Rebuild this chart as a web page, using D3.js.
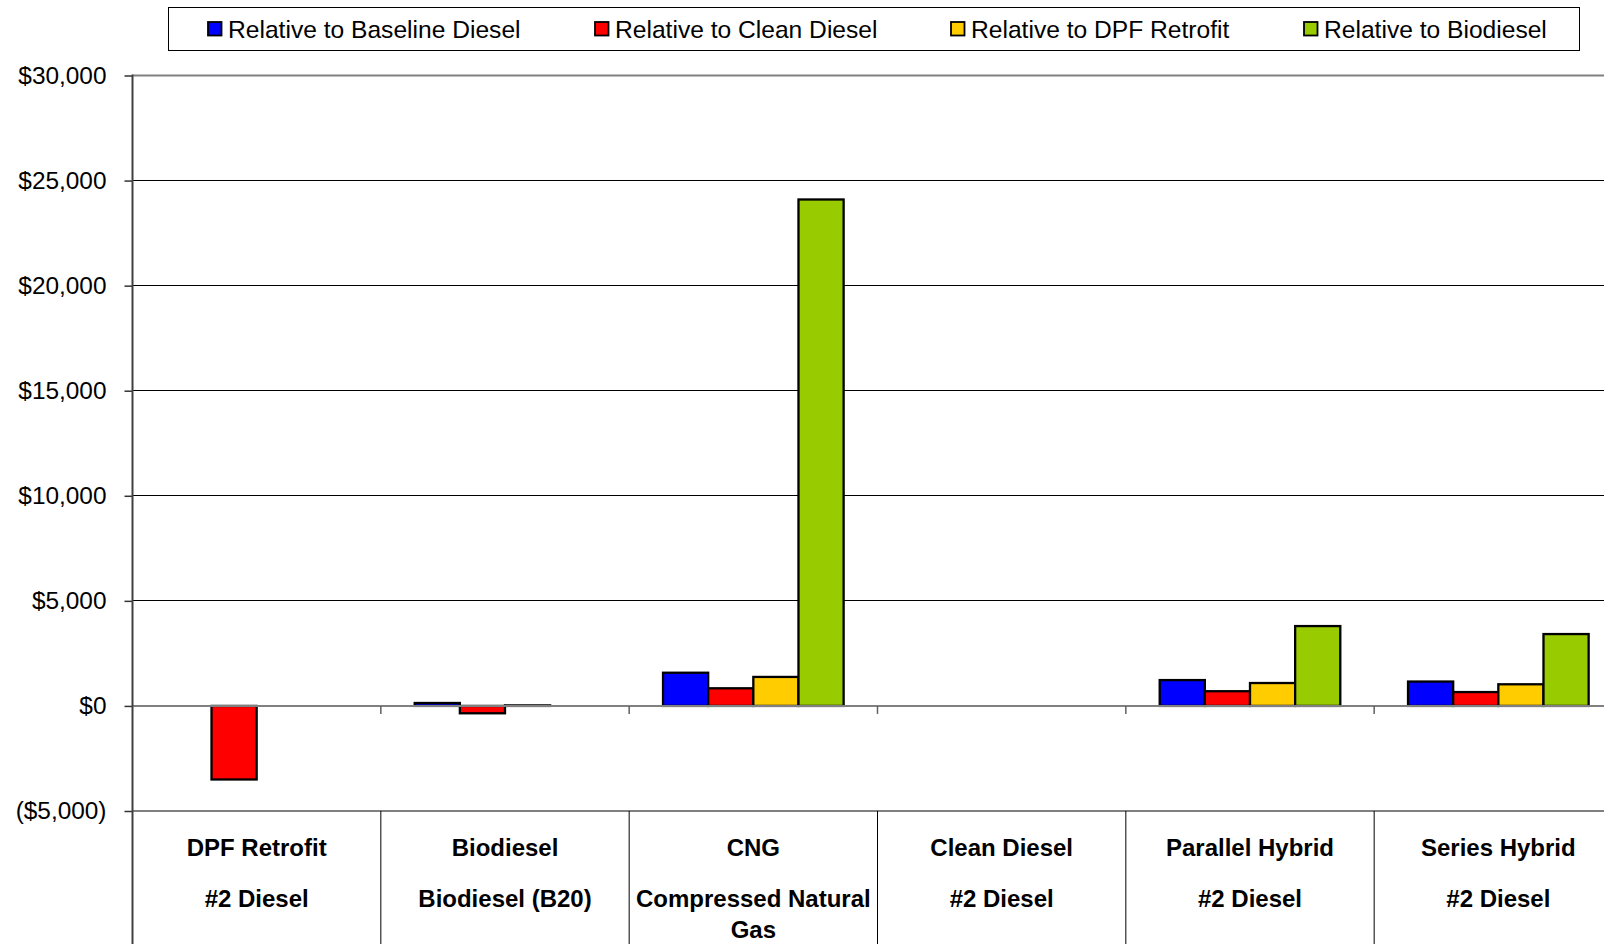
<!DOCTYPE html>
<html>
<head>
<meta charset="utf-8">
<script src="https://cdn.jsdelivr.net/npm/d3@7/dist/d3.min.js"></script>
<style>
  html, body { margin: 0; padding: 0; background: #fff; overflow: hidden; }
  svg { display: block; font-family: "Liberation Sans", Arial, sans-serif; }
</style>
</head>
<body>
<svg id="chart" width="1604" height="944"></svg>
<script>
// Vehicle technologies and their fuels (two-line category labels)
const technologies = ["DPF Retrofit", "Biodiesel", "CNG", "Clean Diesel", "Parallel Hybrid", "Series Hybrid"];
const fuels = ["#2 Diesel", "Biodiesel (B20)", "Compressed Natural Gas", "#2 Diesel", "#2 Diesel", "#2 Diesel"];

// Series names and colours
const seriesNames = ["Relative to Baseline Diesel", "Relative to Clean Diesel", "Relative to DPF Retrofit", "Relative to Biodiesel"];
const seriesColors = ["#0000FF", "#FF0000", "#FFCC00", "#99CC00"];

// Incremental cost per series (null = not applicable)
const relBaseline = [null, 140, 1580, null, 1230, 1160];
const relClean    = [-3500, -350, 840, null, 700, 660];
const relDPF      = [null, 25, 1380, null, 1090, 1030];
const relBiodiesel = [null, null, 24100, null, 3800, 3420];

// Value-axis ticks
const yTicks = [-5000, 0, 5000, 10000, 15000, 20000, 25000, 30000];

const seriesValues = [relBaseline, relClean, relDPF, relBiodiesel];

const svg = d3.select("#chart");
const plotLeft = 132.5, plotRight = 1622.5;
const yTop = 75.5, yBottom = 811;

const x0 = d3.scaleBand().domain(d3.range(technologies.length)).range([plotLeft, plotRight]).paddingInner(0).paddingOuter(0);
// Excel-style gap width of 150%: 4 bars + 1.5 bar-widths of gap per category
const x1 = d3.scaleBand().domain(d3.range(seriesNames.length))
  .range([0, x0.bandwidth()]).paddingInner(0).paddingOuter(0.75);
const y = d3.scaleLinear().domain([-5000, 30000]).range([yBottom, yTop]);

const fmt = v => v < 0 ? "($" + d3.format(",")(-v) + ")" : "$" + d3.format(",")(v);

// Horizontal gridlines
svg.append("g").selectAll("line")
  .data(yTicks.filter(t => t !== 0 && t !== -5000 && t !== 30000))
  .join("line")
  .attr("x1", plotLeft).attr("x2", 1604)
  .attr("y1", d => y(d)).attr("y2", d => y(d))
  .attr("stroke", "#000").attr("stroke-width", 1).attr("shape-rendering", "crispEdges");

// Top border and bottom (category) line
[30000, -5000].forEach(t => {
  svg.append("line")
    .attr("x1", plotLeft).attr("x2", 1604).attr("y1", y(t)).attr("y2", y(t))
    .attr("stroke", "#808080").attr("stroke-width", 2);
});

// Category divider lines under the plot
svg.append("g").selectAll("line")
  .data(d3.range(technologies.length + 1))
  .join("line")
  .attr("x1", d => plotLeft + d * x0.bandwidth()).attr("x2", d => plotLeft + d * x0.bandwidth())
  .attr("y1", yBottom).attr("y2", 944)
  .attr("stroke", "#000").attr("stroke-width", 1);

// Bars
const groups = svg.append("g").selectAll("g")
  .data(technologies.map((t, i) => i))
  .join("g")
  .attr("transform", i => `translate(${x0(i)},0)`);

groups.selectAll("rect")
  .data(i => seriesValues.map((vals, s) => ({ s, v: vals[i] })).filter(d => d.v !== null))
  .join("rect")
  .attr("x", d => x1(d.s))
  .attr("width", x1.bandwidth())
  .attr("y", d => Math.min(y(d.v), y(0)))
  .attr("height", d => Math.abs(y(d.v) - y(0)))
  .attr("fill", d => seriesColors[d.s])
  .attr("stroke", "#000").attr("stroke-width", 2.3);

// Zero line with tick marks at category boundaries
svg.append("line")
  .attr("x1", plotLeft).attr("x2", 1604).attr("y1", y(0)).attr("y2", y(0))
  .attr("stroke", "#808080").attr("stroke-width", 2);
svg.append("g").selectAll("line")
  .data(d3.range(1, technologies.length + 1))
  .join("line")
  .attr("x1", d => plotLeft + d * x0.bandwidth()).attr("x2", d => plotLeft + d * x0.bandwidth())
  .attr("y1", y(0)).attr("y2", y(0) + 8)
  .attr("stroke", "#606060").attr("stroke-width", 1.5);

// Value axis
const yAxis = d3.axisLeft(y).tickValues(yTicks).tickFormat(fmt).tickSize(8).tickPadding(18);
const ya = svg.append("g").attr("transform", `translate(${plotLeft},0)`).call(yAxis);
ya.select(".domain").remove();
ya.selectAll(".tick line").attr("stroke", "#333").attr("stroke-width", 1.5);
ya.selectAll(".tick text")
  .attr("font-size", 24.4).attr("fill", "#000")
  .attr("font-family", "'Liberation Sans', Arial, sans-serif");
svg.append("line")
  .attr("x1", plotLeft).attr("x2", plotLeft).attr("y1", yTop - 1).attr("y2", 944)
  .attr("stroke", "#404040").attr("stroke-width", 2);

// Category labels (technology / fuel, wrapped to the category width)
const labelW = x0.bandwidth() - 10;
const labels = svg.append("g").attr("font-weight", "bold").attr("font-size", 24)
  .attr("text-anchor", "middle").attr("fill", "#000");
technologies.forEach((tech, i) => {
  const cx = x0(i) + x0.bandwidth() / 2;
  labels.append("text").attr("x", cx).attr("y", 855.5).text(tech);
  // wrap the fuel line word by word
  const words = fuels[i].split(" ");
  let lines = [], cur = [];
  const probe = labels.append("text").attr("x", cx).attr("y", -100);
  words.forEach(w => {
    const test = cur.concat([w]).join(" ");
    probe.text(test);
    if (probe.node().getComputedTextLength() > labelW && cur.length) {
      lines.push(cur.join(" "));
      cur = [w];
    } else cur.push(w);
  });
  lines.push(cur.join(" "));
  probe.remove();
  lines.forEach((ln, k) => {
    labels.append("text").attr("x", cx).attr("y", 906.5 + k * 31.5).text(ln);
  });
});

// Legend
const legend = svg.append("g");
legend.append("rect")
  .attr("x", 168.5).attr("y", 7.5).attr("width", 1411).attr("height", 43)
  .attr("fill", "#fff").attr("stroke", "#000").attr("stroke-width", 1);
const legendX = [208, 595, 951, 1304];
seriesNames.forEach((name, s) => {
  legend.append("rect")
    .attr("x", legendX[s]).attr("y", 22).attr("width", 13.5).attr("height", 13.5)
    .attr("fill", seriesColors[s]).attr("stroke", "#000").attr("stroke-width", 1.8);
  legend.append("text")
    .attr("x", legendX[s] + 20).attr("y", 37.5)
    .attr("font-size", 24.6).attr("fill", "#000").text(name);
});
</script>
</body>
</html>
